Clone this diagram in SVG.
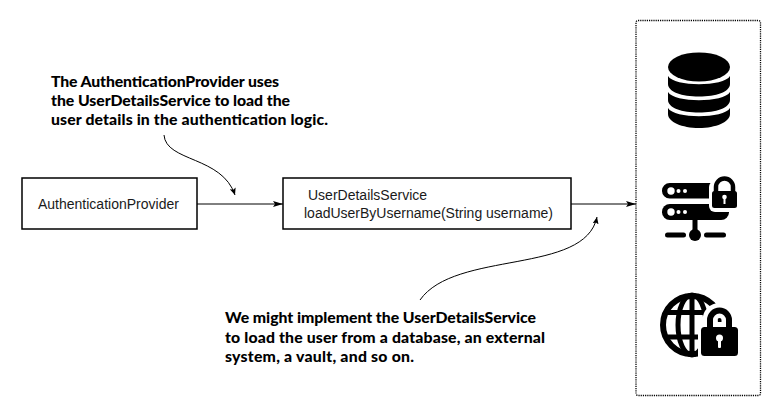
<svg xmlns="http://www.w3.org/2000/svg" width="767" height="404" viewBox="0 0 767 404">
<style>
.box{fill:#fff;stroke:#000;stroke-width:1.5}
.lbl{font-family:"Liberation Sans",Arial,sans-serif;font-size:14px;fill:#1a1a1a}
.note{font-family:"Lato","Open Sans",sans-serif;font-weight:900;font-size:15.8px;fill:#000}
.ln{fill:none;stroke:#000;stroke-width:1}
.w{fill:#fff}
.k{fill:#000}
</style>
<defs>
<marker id="ah" viewBox="0 0 10 6" refX="10" refY="3" markerWidth="10" markerHeight="6" markerUnits="userSpaceOnUse" orient="auto"><path d="M0 0L10 3L0 6L2 3Z" fill="#000"/></marker>
<marker id="ah2" viewBox="0 0 7 6" refX="7" refY="3" markerWidth="7" markerHeight="6" markerUnits="userSpaceOnUse" orient="auto"><path d="M0 0L7 3L0 6L1.5 3Z" fill="#000"/></marker>
</defs>
<rect width="767" height="404" fill="#fff"/>
<g id="connectors">
<path class="ln" d="M197 204H283" marker-end="url(#ah)"/>
<path class="ln" d="M571 204H636" marker-end="url(#ah)"/>
<path class="ln" d="M164 135C166 162 222 156 235 195" marker-end="url(#ah2)"/>
<path class="ln" d="M420 300C455 250 585 275 597 217" marker-end="url(#ah2)"/>
</g>
<g id="authentication-provider">
<rect class="box" x="22" y="178" width="175" height="51"/>
<text class="lbl" x="38" y="209">AuthenticationProvider</text>
</g>
<g id="user-details-service">
<rect class="box" x="283" y="178" width="288" height="51"/>
<text class="lbl" x="308" y="200">UserDetailsService</text>
<text class="lbl" x="304" y="218">loadUserByUsername(String username)</text>
</g>
<g id="note-provider">
<text class="note" x="51" y="87" textLength="228">The AuthenticationProvider uses</text>
<text class="note" x="51" y="106" textLength="239">the UserDetailsService to load the</text>
<text class="note" x="51" y="125" textLength="277">user details in the authentication logic.</text>
</g>
<g id="note-implement">
<text class="note" x="225" y="323" textLength="311">We might implement the UserDetailsService</text>
<text class="note" x="225" y="343" textLength="320">to load the user from a database, an external</text>
<text class="note" x="225" y="362" textLength="189">system, a vault, and so on.</text>
</g>
<g id="backends">
<rect x="636" y="20.5" width="124.5" height="375" rx="2" fill="none" stroke="#000" stroke-width="1.3" stroke-dasharray="1.2 1"/>
</g>
<g id="database-icon">
<path class="k" d="M668 76C674 87 724 87 730 76V84C730 92 716 96.500 699 96.500C682 96.500 668 92 668 84Z"/>
<path class="k" d="M668 92C674 103 724 103 730 92V100C730 108 716 112.500 699 112.500C682 112.500 668 108 668 100Z"/>
<path class="k" d="M668 108C674 119 724 119 730 108V114C730 122 716 128 699 128C682 128 668 122 668 114Z"/>
<ellipse class="k" cx="699" cy="67" rx="31" ry="14.500"/>
</g>
<g id="server-lock-icon">
<path class="k" d="M669.700 183H712V198.500H669.700A7.750 7.750 0 0 1 669.700 183Z"/>
<rect class="k" x="662" y="204" width="67" height="16" rx="7.800"/>
<rect class="k" x="692.500" y="218" width="5" height="16"/>
<circle class="k" cx="695" cy="235" r="6"/>
<rect class="k" x="665" y="232.500" width="21" height="5" rx="2.500"/>
<rect class="k" x="704" y="232.500" width="22" height="5" rx="2.500"/>
<circle class="w" cx="671" cy="191" r="3.700"/><circle class="w" cx="678.500" cy="191" r="2"/><circle class="w" cx="685" cy="191" r="2"/>
<circle class="w" cx="671" cy="212" r="3.700"/><circle class="w" cx="678.500" cy="212" r="2"/><circle class="w" cx="685" cy="212" r="2"/>
<rect class="w" x="709" y="181" width="31" height="31" rx="6"/>
<path fill="none" stroke="#000" stroke-width="4.500" d="M716 193V187A8.500 8.500 0 0 1 733 187V193"/>
<rect class="k" x="712" y="191" width="25" height="17" rx="2.500"/>
<circle class="w" cx="724.500" cy="197" r="2.300"/><rect class="w" x="723.500" y="197" width="2" height="7"/>
</g>
<g id="globe-lock-icon">
<circle cx="692" cy="325" r="29" fill="#fff" stroke="#000" stroke-width="6"/>
<g fill="none" stroke="#000" stroke-width="5">
<ellipse cx="692" cy="325" rx="14" ry="30"/>
<path d="M692 295V355M664 312.500H720M664 337H720"/>
</g>
<path class="w" d="M698 358V322H745V360H698Z"/>
<path fill="none" stroke="#fff" stroke-width="15" d="M710 332V320A9.500 9.500 0 0 1 729 320V332"/>
<path fill="none" stroke="#000" stroke-width="6" d="M710 332V320A9.500 9.500 0 0 1 729 320V332"/>
<rect class="k" x="701" y="327" width="37" height="29" rx="3.500"/>
<circle class="w" cx="719.500" cy="338" r="3.500"/><rect class="w" x="718" y="338" width="3" height="10" rx="1"/>
</g>
</svg>
